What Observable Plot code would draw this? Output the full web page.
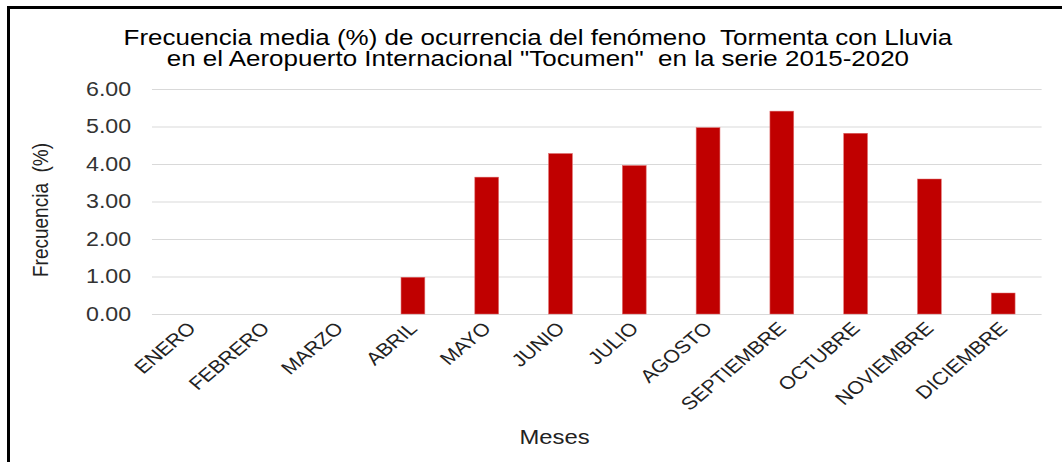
<!DOCTYPE html>
<html>
<head>
<meta charset="utf-8">
<script src="https://cdn.jsdelivr.net/npm/d3@7"></script>
<script src="https://cdn.jsdelivr.net/npm/@observablehq/plot@0.6"></script>
<style>
  html, body { margin: 0; padding: 0; background: #fff; overflow: hidden; width: 1062px; height: 462px; }
  #wrap { position: absolute; left: 0; top: 0; width: 892px; height: 462px; transform: scaleX(1.19); transform-origin: 0 0; }
  #title { position: absolute; left: 12px; top: 27px; width: 880px; text-align: center; font-family: "Liberation Sans", Arial, sans-serif; font-size: 21.8px; line-height: 21px; color: #000; white-space: pre; }
  #chart { position: absolute; left: 0; top: 72px; }
  #frame { position: absolute; left: 7px; top: 6px; width: 1200px; height: 600px; border-left: 3px solid #000; border-top: 3px solid #000; pointer-events: none; }
</style>
</head>
<body>
<div id="wrap">
  <div id="title"></div>
  <div id="chart"></div>
</div>
<div id="frame"></div>
<script>
const titleLines = [
  "Frecuencia media (%) de ocurrencia del fenómeno  Tormenta con Lluvia",
  "en el Aeropuerto Internacional \"Tocumen\"  en la serie 2015-2020"
];
const months = ["ENERO","FEBRERO","MARZO","ABRIL","MAYO","JUNIO","JULIO","AGOSTO","SEPTIEMBRE","OCTUBRE","NOVIEMBRE","DICIEMBRE"];
const freq = [0, 0, 0, 0.98, 3.65, 4.28, 3.96, 4.97, 5.41, 4.82, 3.60, 0.56];
const yTicks = [0, 1, 2, 3, 4, 5, 6];
const yLabel = "Frecuencia  (%)";
const xLabel = "Meses";

document.getElementById("title").textContent = titleLines.join("\n");

const data = months.map((m, i) => ({mes: m, valor: freq[i]}));

const chart = Plot.plot({
  width: 892,
  height: 390,
  marginTop: 17,
  marginBottom: 148,
  marginLeft: 127.7,
  marginRight: 16.7,
  style: {fontFamily: "'Liberation Sans', Arial, sans-serif", background: "transparent", overflow: "visible"},
  x: {domain: months, paddingInner: 0.68, paddingOuter: 0.34},
  y: {domain: [0, 6]},
  marks: [
    Plot.gridY(yTicks, {stroke: "#d9d9d9", strokeOpacity: 1, strokeWidth: 1}),
    Plot.barY(data, {x: "mes", y: "valor", fill: "#c00000", stroke: "#e07070", strokeWidth: 0.5}),
    Plot.axisY(yTicks, {tickFormat: d3.format(".2f"), tickSize: 0, tickPadding: 18, fontSize: 19.5, fill: "#333", label: null}),
    Plot.axisX({tickRotate: -45, tickSize: 0, tickPadding: 11, fontSize: 18, fill: "#222", label: null}),
    Plot.text([yLabel], {frameAnchor: "left", rotate: -90, dx: -94, dy: 8, fontSize: 19, fill: "#222", textAnchor: "middle", lineAnchor: "middle"}),
    Plot.text([xLabel], {frameAnchor: "bottom", dx: -36, dy: 123, fontSize: 20, fill: "#222", textAnchor: "middle", lineAnchor: "middle"})
  ]
});
document.getElementById("chart").appendChild(chart);
</script>
</body>
</html>
